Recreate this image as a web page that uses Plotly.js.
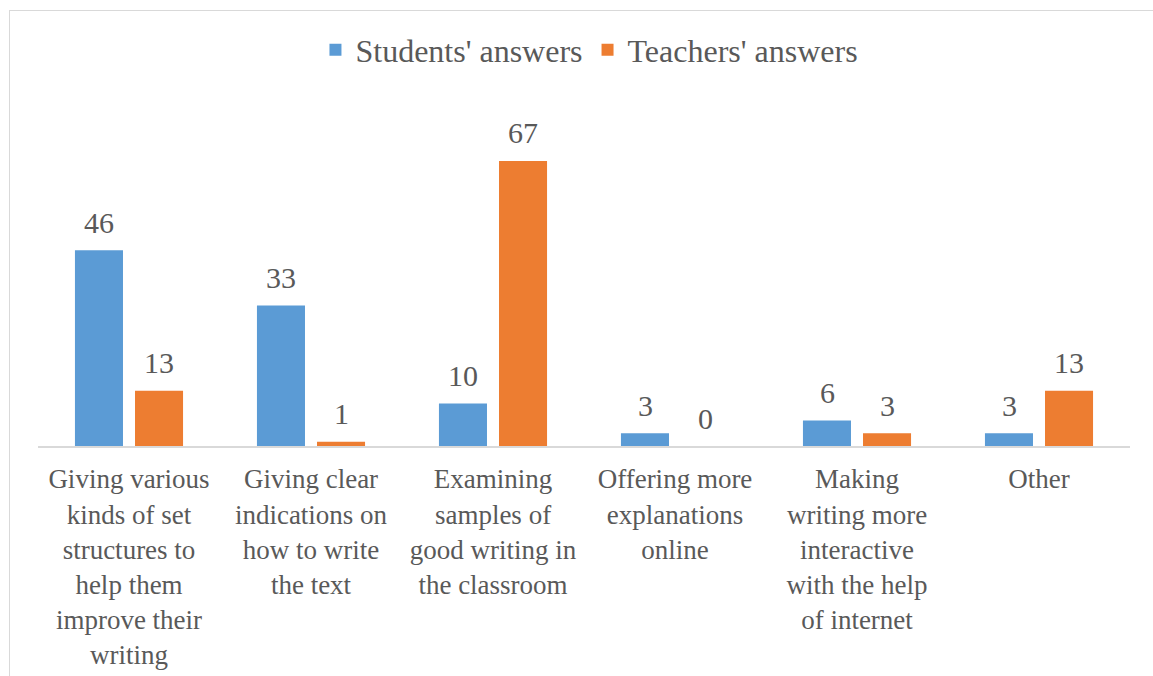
<!DOCTYPE html>
<html><head><meta charset="utf-8">
<script src="https://cdn.plot.ly/plotly-3.0.1.min.js"></script>
<style>
html,body{margin:0;padding:0;background:#fff;overflow:hidden;}
#frame{position:absolute;left:9px;top:10px;width:1160px;height:700px;border:1px solid #d9d9d9;}
#chart{position:absolute;left:0;top:0;width:1153px;height:676px;}
</style></head>
<body>
<div id="frame"></div>
<div id="chart"></div>
<script>
const categories = [
  "Giving various<br>kinds of set<br>structures to<br>help them<br>improve their<br>writing",
  "Giving clear<br>indications on<br>how to write<br>the text",
  "Examining<br>samples of<br>good writing in<br>the classroom",
  "Offering more<br>explanations<br>online",
  "Making<br>writing more<br>interactive<br>with the help<br>of internet",
  "Other"
];
const studentsAnswers = [46, 33, 10, 3, 6, 3];
const teachersAnswers = [13, 1, 67, 0, 3, 13];
const seriesNames = ["Students' answers", "Teachers' answers"];
const seriesColors = ["#5b9bd5", "#ed7d31"];

function mkFont(size) { return {family: "Liberation Serif", color: "#595959", size: size}; }

const traces = [studentsAnswers, teachersAnswers].map((vals, i) => ({
  type: "bar", name: seriesNames[i], x: categories, y: vals,
  marker: {color: seriesColors[i]}, cliponaxis: false, hoverinfo: "none"
}));

// value labels above each bar, placed via the axis scales
const annotations = [];
[studentsAnswers, teachersAnswers].forEach((vals, i) => {
  vals.forEach((v, j) => {
    annotations.push({
      x: categories[j], y: v, xref: "x", yref: "y", text: String(v),
      showarrow: false, xanchor: "center", yanchor: "middle",
      xshift: i === 0 ? -30 : 30, yshift: 28,
      font: mkFont(30)
    });
  });
});

const layout = {
  width: 1153, height: 676,
  paper_bgcolor: "rgba(0,0,0,0)", plot_bgcolor: "rgba(0,0,0,0)",
  margin: {l: 38, r: 23, t: 100, b: 230},
  barmode: "group", bargap: 0.34, bargroupgap: 0.2,
  font: mkFont(27),
  showlegend: true,
  legend: {orientation: "h", x: 0.505, xanchor: "center", y: 0.926, yref: "container", yanchor: "middle",
           font: mkFont(32), traceorder: "normal", itemwidth: 30},
  xaxis: {type: "category", showline: true, linecolor: "#d9d9d9", linewidth: 2,
          ticks: "", tickfont: mkFont(27), fixedrange: true, tickangle: 0, ticklabelstandoff: 8},
  yaxis: {range: [0, 81.33], visible: false, showgrid: false, zeroline: false, fixedrange: true},
  annotations: annotations
};

Plotly.newPlot("chart", traces, layout, {staticPlot: true, displayModeBar: false});
</script>
</body></html>
